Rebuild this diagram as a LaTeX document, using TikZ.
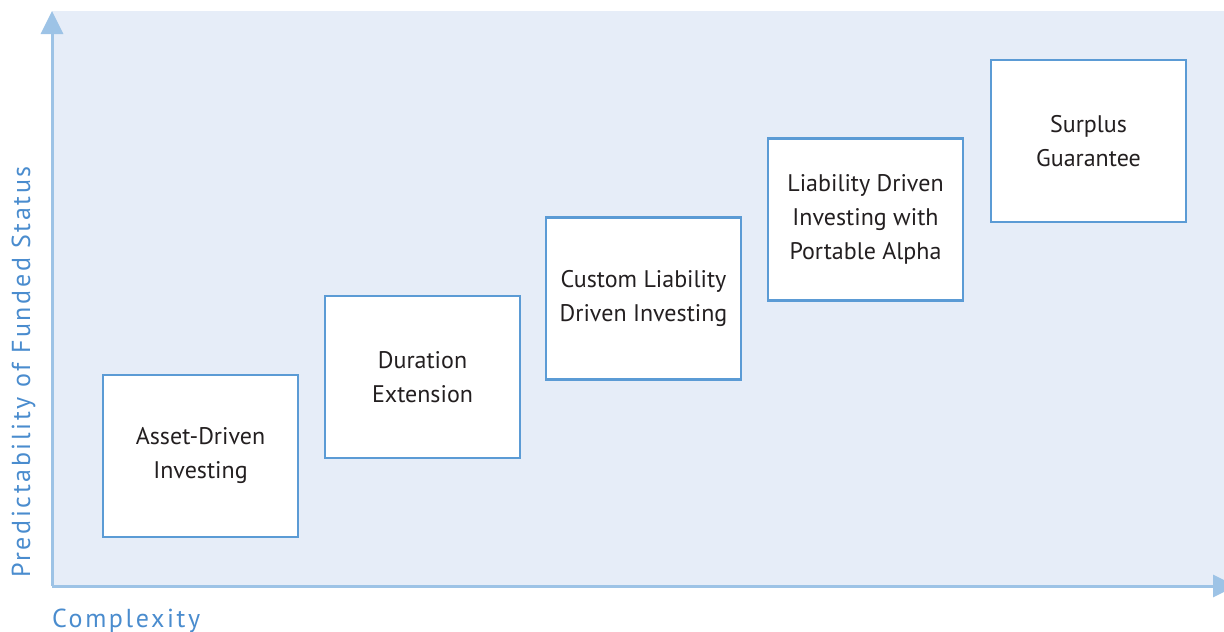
\documentclass[tikz,border=0pt]{standalone}
\usepackage{fontspec}
\setmainfont{PT Sans}
\newfontfamily\labelfont[LetterSpace=10]{PT Sans}
\usetikzlibrary{arrows.meta}
\definecolor{bgc}{HTML}{E6EDF8}
\definecolor{axisc}{HTML}{9DC3E6}
\definecolor{boxc}{HTML}{5B9BD5}
\definecolor{txtc}{HTML}{231F20}
\definecolor{lblc}{HTML}{4A8CCE}
\tikzset{
  stagebox/.style={draw=boxc, line width=2.5pt, fill=white, minimum width=195pt, minimum height=162pt, inner sep=0pt, align=center, text=txtc, font=\fontsize{24}{34}\selectfont},
  axisline/.style={draw=axisc, line width=3pt, -{Triangle[length=23pt,width=22pt]}},
  axislabel/.style={text=lblc, font=\labelfont\fontsize{26}{28}\selectfont, inner sep=0pt}
}
\begin{document}
\begin{tikzpicture}[x=1pt,y=-1pt]
\useasboundingbox (0,0) rectangle (1224,632);
\fill[bgc] (52,11) rectangle (1224,586);
\coordinate (o) at (52,586);
\coordinate (ytip) at (52,11);
\coordinate (xtip) at (1236,586);
\draw[axisline] (o) -- (ytip);
\draw[axisline] (o) -- (xtip);
\node[stagebox] (b1) at (200.5,456) {Asset-Driven\\Investing};
\node[stagebox] (b2) at (422.5,377) {Duration\\Extension};
\node[stagebox] (b3) at (643.5,298.5) {Custom Liability\\Driven Investing};
\node[stagebox] (b4) at (865.5,219.5) {Liability Driven\\Investing with\\Portable Alpha};
\node[stagebox] (b5) at (1088.5,141) {Surplus\\Guarantee};
\node[axislabel, anchor=base west] (xl) at (52,627) {Complexity};
\node[axislabel, anchor=base west, rotate=90] (yl) at (30,578) {Predictability of Funded Status};
\end{tikzpicture}
\end{document}
